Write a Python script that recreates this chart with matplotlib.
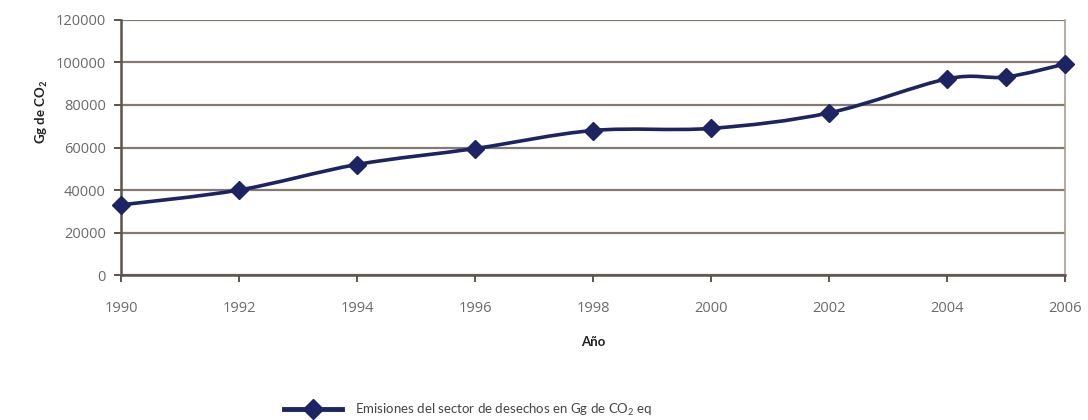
import numpy as np
import matplotlib
matplotlib.use("Agg")
import matplotlib.pyplot as plt
from matplotlib.path import Path
from matplotlib.patches import PathPatch

years = [1990, 1992, 1994, 1996, 1998, 2000, 2002, 2004, 2005, 2006]
emisiones = [33000, 40000, 52000, 59500, 68000, 69000, 76300, 92300, 93200, 99300]
xticks = [1990, 1992, 1994, 1996, 1998, 2000, 2002, 2004, 2006]
yticks = [0, 20000, 40000, 60000, 80000, 100000, 120000]

navy = "#1c2463"
grid_c = "#857a70"
text_c = "#6a6a6a"

plt.rcParams["font.family"] = ["Lato", "DejaVu Sans"]
plt.rcParams["mathtext.fontset"] = "custom"
plt.rcParams["mathtext.rm"] = "Lato"
plt.rcParams["mathtext.bf"] = "Lato:bold"

fig = plt.figure(figsize=(10.88, 4.2), dpi=100)
ax = fig.add_axes([0.1112, 0.3452, 0.8677, 0.6072])


def smooth_path(x, y, t=1 / 6):
    # catmull-rom style bezier through the points (excel "smoothed line")
    x = np.asarray(x, float)
    y = np.asarray(y, float)
    verts = [(x[0], y[0])]
    codes = [Path.MOVETO]
    n = len(x)
    for i in range(n - 1):
        p0 = (x[i - 1], y[i - 1]) if i > 0 else (x[i], y[i])
        p3 = (x[i + 2], y[i + 2]) if i + 2 < n else (x[i + 1], y[i + 1])
        c1 = (x[i] + (x[i + 1] - p0[0]) * t, y[i] + (y[i + 1] - p0[1]) * t)
        c2 = (x[i + 1] - (p3[0] - x[i]) * t, y[i + 1] - (p3[1] - y[i]) * t)
        verts += [c1, c2, (x[i + 1], y[i + 1])]
        codes += [Path.CURVE4] * 3
    return Path(verts, codes)


ax.add_patch(PathPatch(smooth_path(years, emisiones), fill=False,
                       edgecolor=navy, lw=2.6, zorder=3, capstyle="round"))
ax.plot(years, emisiones, linestyle="none", marker="D", markersize=9.5,
        color=navy, zorder=4, clip_on=False)

ax.set_xlim(1990, 2006)
ax.set_ylim(0, 120000)
ax.set_xticks(xticks)
ax.set_xticklabels([str(v) for v in xticks])
ax.set_yticks(yticks)
ax.set_yticklabels([str(v) for v in yticks])

ax.yaxis.grid(True, color=grid_c, lw=1.6)
ax.set_axisbelow(True)
for side in ["left", "bottom"]:
    ax.spines[side].set_color("#5e534b")
    ax.spines[side].set_linewidth(1.8)
ax.spines["right"].set_color("#a79d94")
ax.spines["right"].set_linewidth(1.2)
ax.spines["top"].set_visible(False)

ax.tick_params(axis="both", colors="#5e534b", labelcolor=text_c, labelsize=10.5,
               width=1.4, length=5)
for lab in ax.get_xticklabels() + ax.get_yticklabels():
    lab.set_fontfamily(["Open Sans", "DejaVu Sans"])
ax.tick_params(axis="x", pad=14)
ax.tick_params(axis="y", pad=6)

ax.set_xlabel("Año", fontsize=9.5, fontweight="bold", color="#222222", labelpad=14)
ax.set_ylabel(r"Gg de CO$\mathbf{_2}$", fontsize=9.5, fontweight="bold",
              color="#222222")
ax.yaxis.set_label_coords(-0.075, 0.64)

ax.plot([], [], color=navy, lw=3.5, marker="D", markersize=10,
        label="Emisiones del sector de desechos en Gg de CO$_2$ eq")
fig.legend(loc="center", bbox_to_anchor=(0.43, 0.025), frameon=False,
           fontsize=9.5, handlelength=4.4, handletextpad=1.0,
           labelcolor="#444444")

fig.savefig("out.png", dpi=100, facecolor="white")
